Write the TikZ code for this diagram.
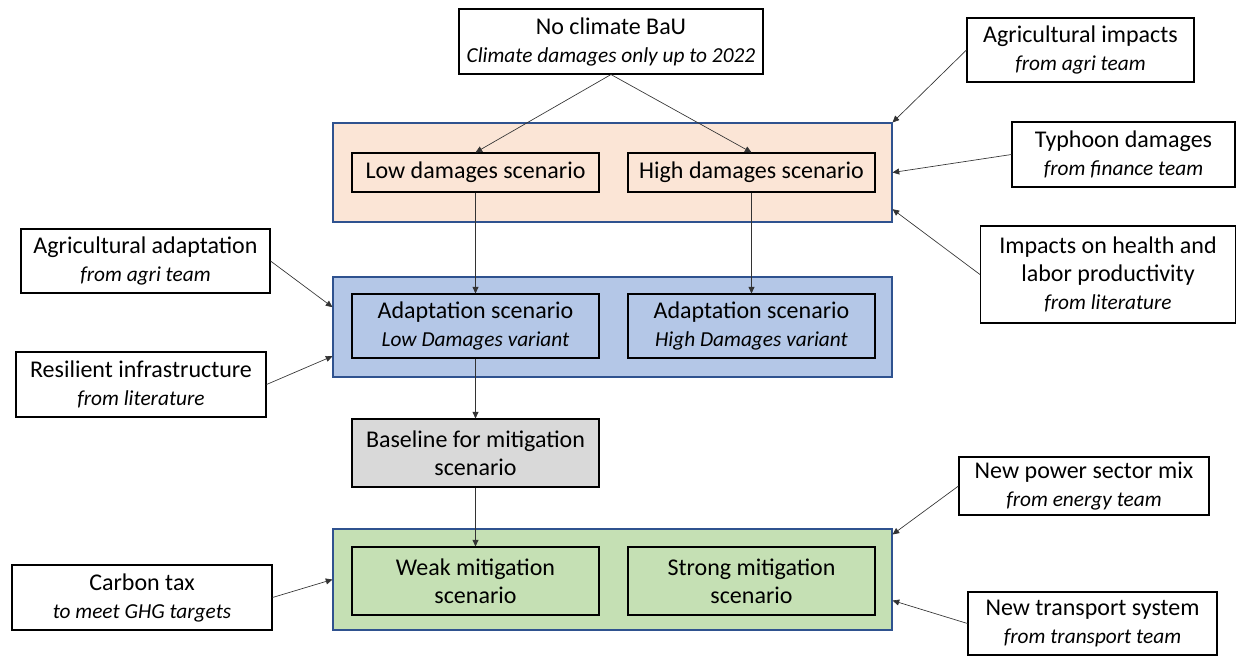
\documentclass[tikz,border=0pt]{standalone}
\usepackage{fontspec}
\setmainfont{Carlito}
\usetikzlibrary{arrows.meta}
\definecolor{dmgfill}{HTML}{FBE5D6}
\definecolor{adpfill}{HTML}{B4C7E7}
\definecolor{mitfill}{HTML}{C5E0B4}
\definecolor{basefill}{HTML}{D9D9D9}
\definecolor{panelline}{HTML}{2F528F}
\newcommand{\subtxt}[1]{{\fontsize{16}{18}\selectfont\itshape #1}}
\begin{document}
\begin{tikzpicture}[x=0.75pt,y=-0.75pt,
  box/.style={draw, rectangle, align=center, line width=0.8pt, inner sep=0pt,
    font=\fontsize{18}{21}\selectfont},
  panel/.style={draw=panelline, rectangle, line width=0.8pt, inner sep=0pt,
    minimum width=419.25pt},
  link/.style={-{Triangle[length=5pt,width=4.5pt]}, draw=black!80, line width=0.5pt}]
\useasboundingbox (0,0) rectangle (1237,656);

% scenario panels
\node[panel, fill=dmgfill, minimum height=74.25pt] (dmg) at (612.5,172.5) {};
\node[panel, fill=adpfill, minimum height=75pt] (adp) at (612.5,327) {};
\node[panel, fill=mitfill, minimum height=75.75pt] (mit) at (612.5,579.5) {};

\node[box, minimum width=228pt, minimum height=48.75pt] (bau) at (611,41.5) {No climate BaU\\\subtxt{Climate damages only up to 2022}};

\node[box, fill=dmgfill, minimum width=185.25pt, minimum height=29.25pt] (low) at (475.5,172.5) {Low damages scenario};
\node[box, fill=dmgfill, minimum width=185.25pt, minimum height=29.25pt] (high) at (751.5,172.5) {High damages scenario};

\node[box, fill=adpfill, minimum width=185.25pt, minimum height=48pt] (adpL) at (475.5,326) {Adaptation scenario\\\subtxt{Low Damages variant}};
\node[box, fill=adpfill, minimum width=185.25pt, minimum height=48pt] (adpH) at (751.5,326) {Adaptation scenario\\\subtxt{High Damages variant}};

\node[box, fill=basefill, minimum width=185.25pt, minimum height=51pt] (base) at (475.5,453) {Baseline for mitigation\\scenario};

\node[box, fill=mitfill, minimum width=185.25pt, minimum height=51pt] (weak) at (475.5,581) {Weak mitigation\\scenario};
\node[box, fill=mitfill, minimum width=185.25pt, minimum height=51pt] (strong) at (751.5,581) {Strong mitigation\\scenario};

% inputs on the right
\node[box, minimum width=170.25pt, minimum height=48pt] (agrimp) at (1080.5,50) {Agricultural impacts\\\subtxt{from agri team}};
\node[box, minimum width=167.25pt, minimum height=48.75pt] (typhoon) at (1123.5,154.5) {Typhoon damages\\\subtxt{from finance team}};
\node[box, minimum width=191.25pt, minimum height=72.75pt] (health) at (1108,274.5) {Impacts on health and\\labor productivity\\\subtxt{from literature}};
\node[box, minimum width=187.5pt, minimum height=43.5pt] (power) at (1084,486) {New power sector mix\\\subtxt{from energy team}};
\node[box, minimum width=186.75pt, minimum height=47.25pt] (transport) at (1092.5,623.5) {New transport system\\\subtxt{from transport team}};

% inputs on the left
\node[box, minimum width=186.75pt, minimum height=48pt] (agradp) at (145.5,261) {Agricultural adaptation\\\subtxt{from agri team}};
\node[box, minimum width=187.5pt, minimum height=48.75pt] (resil) at (141,384.5) {Resilient infrastructure\\\subtxt{from literature}};
\node[box, minimum width=195pt, minimum height=48.75pt] (carbon) at (142,597.5) {Carbon tax\\\subtxt{to meet GHG targets}};

\draw[link] (bau.south) -- (low.north);
\draw[link] (bau.south) -- (high.north);
\draw[link] (low) -- (adpL);
\draw[link] (high) -- (adpH);
\draw[link] (adpL) -- (base);
\draw[link] (base) -- (weak);

\draw[link] (agrimp.west) -- (dmg.north east);
\draw[link] (typhoon.west) -- (dmg.east);
\draw[link] (health.west) -- ([yshift=10pt]dmg.south east);
\draw[link] (power.west) -- ([yshift=-4.5pt]mit.north east);
\draw[link] (transport.west) -- ([yshift=22.5pt]mit.south east);

\draw[link] (agradp.east) -- ([yshift=-23pt]adp.north west);
\draw[link] (resil.east) -- ([yshift=16pt]adp.south west);
\draw[link] (carbon.east) -- (mit.west);
\end{tikzpicture}
\end{document}
